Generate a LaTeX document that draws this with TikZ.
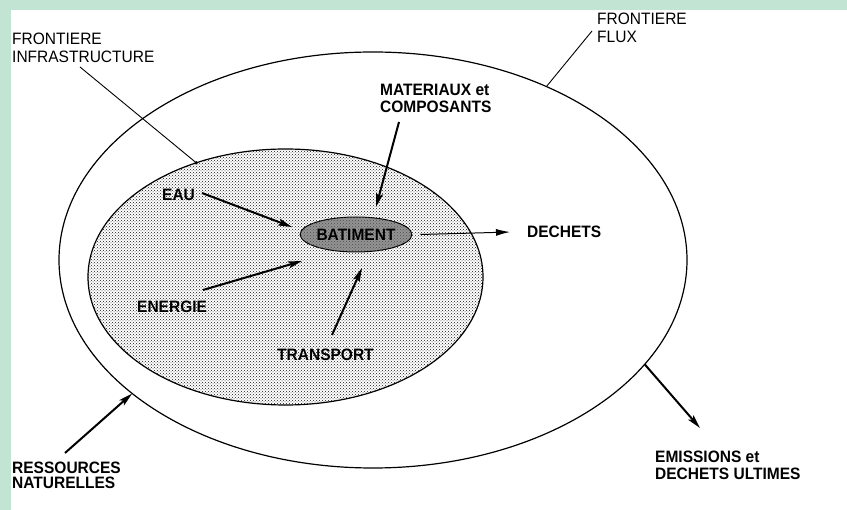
\documentclass[tikz,border=0pt]{standalone}
\usepackage{fontspec}
\setmainfont{Liberation Sans}
\newfontfamily\drawfont[FakeStretch=0.94]{Liberation Sans}
\usetikzlibrary{shapes.geometric,patterns,arrows.meta}
\definecolor{framegreen}{RGB}{194,228,211}

\begin{document}
\begin{tikzpicture}[x=1pt, y=-1pt,
    boundary/.style ={ellipse, draw, line width=1.2pt, inner sep=0pt, outer sep=0pt},
    caption/.style ={anchor=north west, inner sep=0pt, align=left,
                     font=\drawfont\fontsize{16.5}{17.5}\selectfont},
    bcaption/.style ={caption, font=\drawfont\fontsize{16.5}{16.5}\selectfont\bfseries},
    flow/.style ={line width=2pt, -{Stealth[length=14pt,width=7pt,inset=3pt]}},
    pointer/.style ={line width=0.9pt}]
   \useasboundingbox (0,0) rectangle (847,510);
   \fill[framegreen] (0,0) rectangle (847,10);
   \fill[framegreen] (0,0) rectangle (11,510);
   % frontieres
   \node[boundary, minimum width=628pt, minimum height=416pt] (flux) at (373,260) {};
   \node[boundary, minimum width=395pt, minimum height=256pt, fill=white,
         postaction={pattern=crosshatch dots, pattern color=black!90}] (infra) at (285.5,277) {};
   \node[ellipse, draw, line width=1pt, inner sep=0pt, minimum width=106pt, minimum height=35pt,
         fill=black!42, postaction={pattern=crosshatch dots, pattern color=black!70},
         font=\drawfont\fontsize{16.5}{16.5}\selectfont\bfseries] (bat) at (356,234.5) {BATIMENT};
   % textes
   \node[caption] (infratext) at (12,33) {FRONTIERE\\INFRASTRUCTURE};
   \node[caption] (fluxtext) at (597,13) {FRONTIERE\\FLUX};
   \node[bcaption] (mat) at (380,84) {MATERIAUX et\\COMPOSANTS};
   \node[bcaption] (eau) at (162,189) {EAU};
   \node[bcaption] (energie) at (137,301) {ENERGIE};
   \node[bcaption] (transport) at (277,349) {TRANSPORT};
   \node[bcaption] (dechets) at (527,226) {DECHETS};
   \node[bcaption, font=\drawfont\fontsize{16.5}{15}\selectfont\bfseries] (ressources) at (12,462) {RESSOURCES\\NATURELLES};
   \node[bcaption] (emissions) at (655,451) {EMISSIONS et\\DECHETS ULTIMES};
   % extremites
   \coordinate (infratop) at (80,67);
   \coordinate (fluxtop) at (592,31);
   \coordinate (matfrom) at (399,122);
   \coordinate (matto) at (376,207);
   \coordinate (eaufrom) at (202,193);
   \coordinate (eauto) at (292,227);
   \coordinate (enerfrom) at (203,290);
   \coordinate (enerto) at (302,261);
   \coordinate (transfrom) at (332,335);
   \coordinate (transto) at (362,268);
   \coordinate (resfrom) at (65,453);
   \coordinate (emisto) at (700,428);
   % liens
   \draw[pointer] (infratop) -- (infra.128);
   \fill (infra.128) circle (1.8pt);
   \draw[pointer] (fluxtop) -- (flux.45);
   \draw[flow] (matfrom) -- (matto);
   \draw[flow] (eaufrom) -- (eauto);
   \draw[flow] (enerfrom) -- (enerto);
   \draw[flow] (transfrom) -- (transto);
   \draw[line width=1pt, -{Latex[length=14pt,width=7pt]}] ([xshift=8]bat.east) -- ([xshift=-17]dechets.west);
   \draw[flow] (resfrom) -- (flux.209);
   \draw[flow] (flux.-21) -- (emisto);
 \end{tikzpicture}
\end{document}
